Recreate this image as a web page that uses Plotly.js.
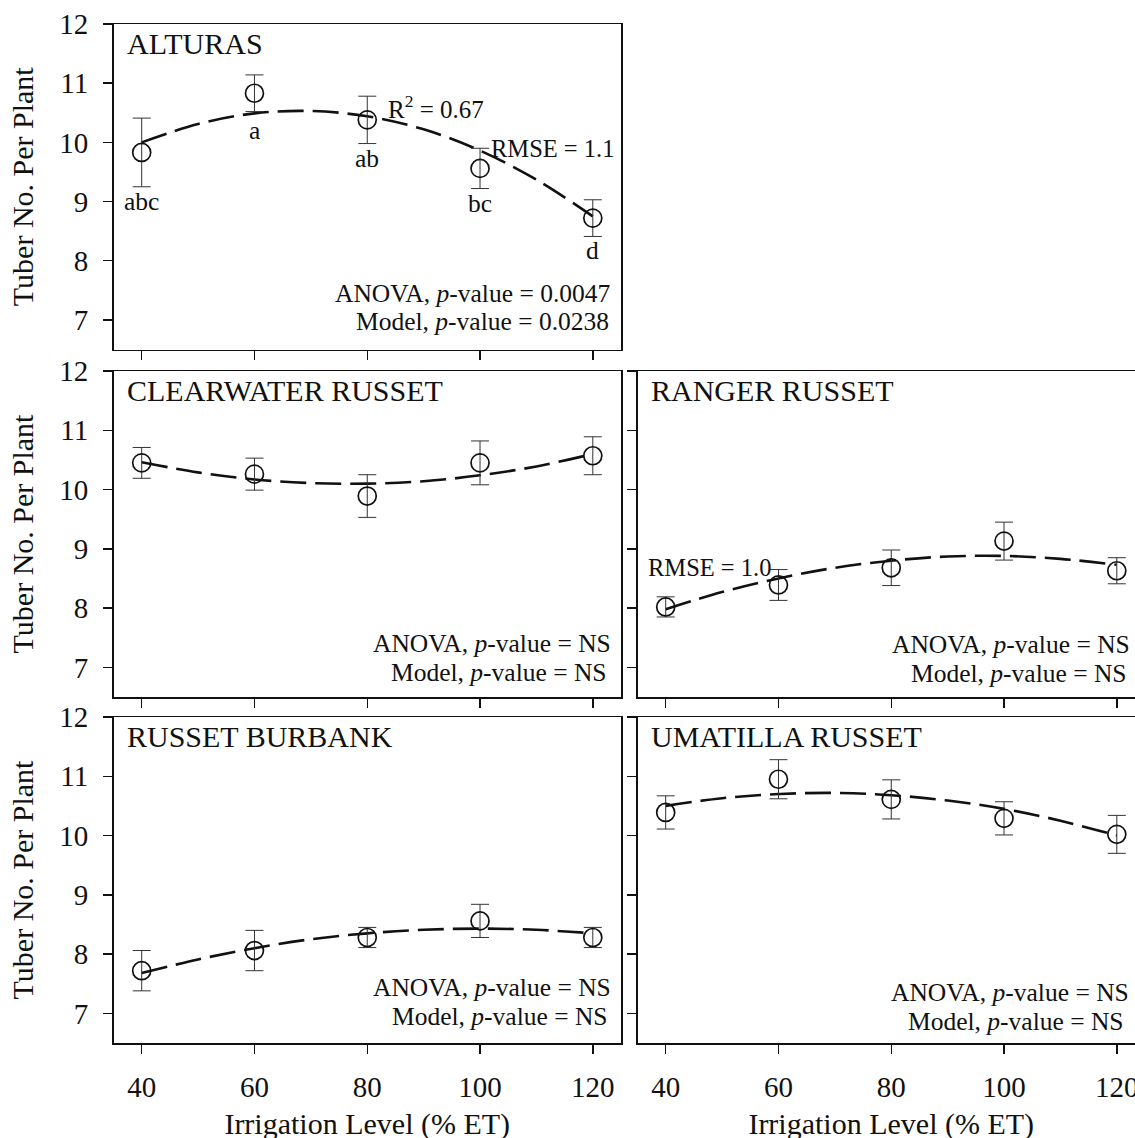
<!DOCTYPE html>
<html>
<head>
<meta charset="utf-8">
<script src="https://cdn.plot.ly/plotly-3.0.1.min.js"></script>
<style>
  html, body { margin: 0; padding: 0; overflow: hidden; background: #fff; }
  #chart { width: 1145px; height: 1150px; }
</style>
</head>
<body>
<div id="chart"></div>
<script>
// ---------- data ----------
const irrigation = [40, 60, 80, 100, 120];
const fitX = [40, 50, 60, 70, 80, 90, 100, 110, 120];

const alturasMean = [9.83, 10.83, 10.38, 9.56, 8.72];
const alturasErr  = [0.58, 0.31, 0.40, 0.34, 0.31];
const alturasFit  = [10.00, 10.31, 10.49, 10.53, 10.44, 10.22, 9.86, 9.37, 8.75];
const alturasLetters = ["abc", "a", "ab", "bc", "d"];
const alturasLetterY = [9.00, 10.20, 9.72, 8.96, 8.17];

const clearwaterMean = [10.45, 10.26, 9.89, 10.45, 10.57];
const clearwaterErr  = [0.26, 0.27, 0.36, 0.37, 0.32];
const clearwaterFit  = [10.46, 10.29, 10.17, 10.11, 10.10, 10.14, 10.24, 10.39, 10.60];

const rangerMean = [8.02, 8.39, 8.68, 9.13, 8.63];
const rangerErr  = [0.17, 0.26, 0.30, 0.32, 0.22];
const rangerFit  = [7.98, 8.27, 8.50, 8.68, 8.80, 8.87, 8.88, 8.83, 8.73];

const burbankMean = [7.72, 8.06, 8.28, 8.56, 8.28];
const burbankErr  = [0.34, 0.34, 0.17, 0.28, 0.17];
const burbankFit  = [7.68, 7.91, 8.10, 8.25, 8.35, 8.41, 8.43, 8.41, 8.35];

const umatillaMean = [10.39, 10.95, 10.61, 10.29, 10.02];
const umatillaErr  = [0.28, 0.33, 0.33, 0.28, 0.32];
const umatillaFit  = [10.50, 10.63, 10.70, 10.72, 10.68, 10.59, 10.45, 10.25, 10.00];

const panelNames = ["ALTURAS", "CLEARWATER RUSSET", "RANGER RUSSET", "RUSSET BURBANK", "UMATILLA RUSSET"];
const anovaText = ["0.0047", "NS", "NS", "NS", "NS"];
const modelText = ["0.0238", "NS", "NS", "NS", "NS"];
const xTickVals = [40, 60, 80, 100, 120];
const yTickVals = [7, 8, 9, 10, 11, 12];
const yTitle = "Tuber No. Per Plant";
const xTitle = "Irrigation Level (% ET)";

// ---------- build ----------
const FONT = "Liberation Serif, Times New Roman, serif";
const INK = "#111";
const panels = [
  {mean: alturasMean, err: alturasErr, fit: alturasFit, ax: ""},
  {mean: clearwaterMean, err: clearwaterErr, fit: clearwaterFit, ax: "2"},
  {mean: rangerMean, err: rangerErr, fit: rangerFit, ax: "3"},
  {mean: burbankMean, err: burbankErr, fit: burbankFit, ax: "4"},
  {mean: umatillaMean, err: umatillaErr, fit: umatillaFit, ax: "5"}
];

const traces = [];
panels.forEach(p => {
  traces.push({
    x: fitX, y: p.fit, xaxis: "x" + p.ax, yaxis: "y" + p.ax,
    type: "scatter", mode: "lines", line: {color: INK, width: 2.6, dash: "26px,9px", shape: "spline"},
    hoverinfo: "skip", showlegend: false
  });
  traces.push({
    x: irrigation, y: p.mean, xaxis: "x" + p.ax, yaxis: "y" + p.ax,
    type: "scatter", mode: "markers",
    marker: {symbol: "circle-open", size: 18, color: INK, line: {width: 1.7, color: INK}},
    error_y: {type: "data", array: p.err, visible: true, color: "#333", thickness: 1, width: 9},
    showlegend: false
  });
});

const W = 1145, H = 1150;
const leftDom = [113.5 / W, 621 / W];
const rightDom = [637.5 / W, 1];
const rows = [[24, 349.5], [371, 697], [717, 1043]];
const yd = r => [1 - r[1] / H, 1 - r[0] / H];

function xa(domain, anchor, labels, title) {
  const a = {
    domain: domain, anchor: anchor, range: [35, 125], tickvals: xTickVals,
    showticklabels: labels, ticks: "outside", ticklen: 9, tickwidth: 1.5, tickcolor: INK,
    showline: true, mirror: true, linewidth: 1.5, linecolor: INK, showgrid: false, zeroline: false,
    tickfont: {family: FONT, size: 29, color: INK}, ticklabelstandoff: 9
  };
  if (title) a.title = {text: title, font: {family: FONT, size: 30, color: INK}, standoff: 10};
  return a;
}
function ya(domain, anchor, labels, title) {
  const a = {
    domain: domain, anchor: anchor, range: [6.5, 12], tickvals: yTickVals,
    showticklabels: labels, ticks: "outside", ticklen: 9, tickwidth: 1.5, tickcolor: INK,
    showline: true, mirror: true, linewidth: 1.5, linecolor: INK, showgrid: false, zeroline: false,
    tickfont: {family: FONT, size: 29, color: INK}, ticklabelstandoff: 9
  };
  if (title) a.title = {text: title, font: {family: FONT, size: 30, color: INK}, standoff: 16};
  return a;
}

const annotations = [];
const tf = sz => ({family: FONT, size: sz, color: INK});
panels.forEach((p, i) => {
  const xr = "x" + p.ax, yr = "y" + p.ax;
  annotations.push({xref: xr, yref: yr, x: 37.2, y: 11.67, xanchor: "left", yanchor: "middle",
    text: panelNames[i], showarrow: false, font: tf(30), borderpad: 0});
});
// statistics text positions per panel
const statPos = [
  {ax: "", a: [123.4, 7.44], m: [123.1, 6.98]},
  {ax: "2", a: [123.4, 7.40], m: [122.7, 6.91]},
  {ax: "3", a: [122.6, 7.38], m: [121.9, 6.90]},
  {ax: "4", a: [123.4, 7.44], m: [122.9, 6.94]},
  {ax: "5", a: [122.3, 7.36], m: [121.4, 6.86]}
];
statPos.forEach((s, i) => {
  annotations.push({xref: "x" + s.ax, yref: "y" + s.ax, x: s.a[0], y: s.a[1], xanchor: "right", yanchor: "middle",
    text: "ANOVA, <i>p</i>-value = " + anovaText[i], showarrow: false, font: tf(25.5), borderpad: 0});
  annotations.push({xref: "x" + s.ax, yref: "y" + s.ax, x: s.m[0], y: s.m[1], xanchor: "right", yanchor: "middle",
    text: "Model, <i>p</i>-value = " + modelText[i], showarrow: false, font: tf(25.5), borderpad: 0});
});
irrigation.forEach((xv, i) => {
  annotations.push({xref: "x", yref: "y", x: xv, y: alturasLetterY[i], xanchor: "center", yanchor: "middle",
    text: alturasLetters[i], showarrow: false, font: tf(25.5), borderpad: 0});
});
annotations.push({xref: "x", yref: "y", x: 83.5, y: 10.6, xanchor: "left", yanchor: "middle",
  text: "R<sup>2</sup> = 0.67", showarrow: false, font: tf(25), borderpad: 0});
annotations.push({xref: "x", yref: "y", x: 123.9, y: 9.90, xanchor: "right", yanchor: "middle",
  text: "RMSE = 1.1", showarrow: false, font: tf(24.5), borderpad: 0});
annotations.push({xref: "x3", yref: "y3", x: 36.7, y: 8.68, xanchor: "left", yanchor: "middle",
  text: "RMSE = 1.0", showarrow: false, font: tf(24.5), borderpad: 0});

const layout = {
  width: W, height: H,
  margin: {l: 0, r: 0, t: 0, b: 0},
  paper_bgcolor: "#fff", plot_bgcolor: "rgba(0,0,0,0)",
  showlegend: false,
  font: {family: FONT, color: INK},
  xaxis:  xa(leftDom, "y", false),
  yaxis:  ya(yd(rows[0]), "x", true, yTitle),
  xaxis2: xa(leftDom, "y2", false),
  yaxis2: ya(yd(rows[1]), "x2", true, yTitle),
  xaxis3: xa(rightDom, "y3", false),
  yaxis3: ya(yd(rows[1]), "x3", false),
  xaxis4: xa(leftDom, "y4", true, xTitle),
  yaxis4: ya(yd(rows[2]), "x4", true, yTitle),
  xaxis5: xa(rightDom, "y5", true, xTitle),
  yaxis5: ya(yd(rows[2]), "x5", false),
  annotations: annotations
};

Plotly.newPlot("chart", traces, layout, {staticPlot: true, displayModeBar: false});
</script>
</body>
</html>
